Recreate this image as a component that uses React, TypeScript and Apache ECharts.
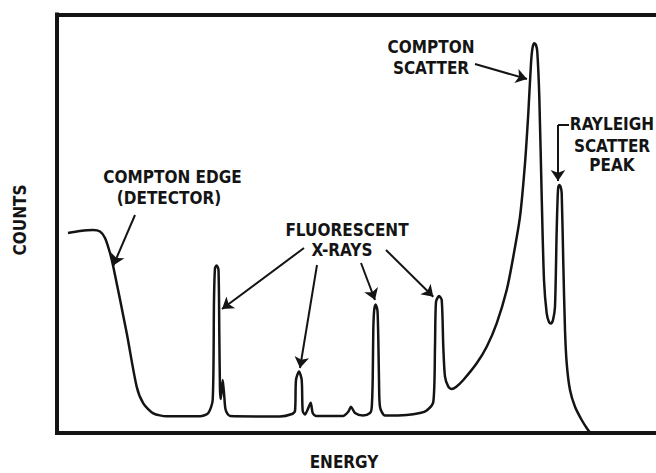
import React, { useEffect, useRef } from "react";
import * as echarts from "echarts";

// Spectrum trace (energy in channel units, counts in arbitrary units)
const energy = [
  11, 23, 36, 43, 48, 53, 56.3, 69.7, 79.7, 86.3, 96.3, 109.7, 143, 151.3, 155.7, 157, 158, 159.7,
  161.5, 162.3, 163, 163.8, 165.7, 167.3, 168.7, 173, 223, 235, 238, 239, 242, 244.7, 245.7, 248,
  250.5, 253.7, 255.7, 259, 286, 291.3, 294, 298, 306, 313, 314.7, 315.7, 316.3, 317.2, 318.7,
  320.5, 321.5, 322, 323, 328, 349.7, 363, 369.7, 376.3, 378, 379, 382, 384.7, 386.3, 388, 391.3,
  394.7, 399, 406.3, 419.7, 429.7, 439.7, 449.7, 456.3, 463, 468, 471.3, 474, 475.5, 477.3, 479,
  480.3, 482.3, 484.7, 487, 489.7, 492, 494, 496, 498, 499.7, 501, 502.3, 503.7, 504.7, 506.3, 508,
  509.7, 513, 518, 524.7, 529.7, 533,
];
const counts = [
  199.5, 201.5, 202.5, 201, 194.5, 179.5, 165.8, 99.5, 45.8, 29.2, 19.2, 16.2, 16.2, 19.5, 32.5,
  132.5, 164.5, 167, 162.5, 99.5, 42.5, 33.5, 52.5, 35.8, 22.5, 16.5, 16, 18.5, 21.5, 52.5, 61,
  52.5, 21.5, 18, 22.5, 29.8, 19.5, 16.5, 16.5, 20.8, 25.8, 19.5, 17, 19.5, 24.5, 52.5, 102.5,
  122.5, 128, 121.5, 82.5, 52.5, 25.5, 17, 17.5, 19.5, 22, 30.5, 85.8, 130.5, 136.5, 132.5, 85.8,
  55.8, 45.8, 43.5, 45.5, 52.5, 69.2, 85.8, 109.2, 142.5, 175.8, 215.8, 269.2, 319.2, 369.2, 384.5,
  389.2, 387.5, 380.5, 335.8, 235.8, 152.5, 119.2, 110.5, 109, 112.5, 125.8, 202.5, 242.5, 247.5,
  245.5, 239.2, 169.2, 102.5, 69.2, 42.5, 25.8, 12.5, 4.5, 0,
];

// Annotation arrows: [fromEnergy, fromCounts, toEnergy, toCounts]
const arrows = [
  [78, 217.5, 56.3, 167],
  [247, 184.5, 165, 123.5],
  [260, 167.5, 243, 64.5],
  [304, 169.5, 318, 132.5],
  [329, 182.5, 376.3, 135.8],
  [418, 368.5, 470, 353.5],
  [501, 307.5, 501, 251.5],
];
const bracket = [501, 307.5, 512, 307.5];

const INK = "#141414";
const FONT = "bold 17px 'DejaVu Sans Condensed', 'Liberation Sans', Arial, sans-serif";

export default function App() {
  const ref = useRef<HTMLDivElement>(null);
  useEffect(() => {
    if (!ref.current) return;
    const chart = echarts.init(ref.current, null, { renderer: "svg" });
    const data = energy.map((e, i) => [e, counts[i]]);
    const txt = (text: string, x: number, y: number, extra: any = {}) => ({
      type: "text",
      x,
      y,
      ...extra,
      style: {
        text,
        fill: INK,
        font: FONT,
        lineHeight: 16,
        align: "center",
        verticalAlign: "middle",
      },
      silent: true,
    });
    const frame = { show: true, onZero: false, lineStyle: { color: INK, width: 4, cap: "square" } };
    const hidden = {
      axisTick: { show: false },
      axisLabel: { show: false },
      splitLine: { show: false },
    };
    chart.setOption({
      animation: false,
      backgroundColor: "#ffffff",
      grid: { left: 57, top: 14.5, right: 0, bottom: 40.5 },
      xAxis: [
        { type: "value", min: 0, max: 599, position: "bottom", axisLine: frame, ...hidden },
        { type: "value", min: 0, max: 599, position: "top", axisLine: frame, ...hidden },
      ],
      yAxis: { type: "value", min: 0, max: 418, position: "left", axisLine: frame, ...hidden },
      series: [
        {
          type: "line",
          data,
          xAxisIndex: 0,
          showSymbol: false,
          smooth: 0.25,
          lineStyle: { color: INK, width: 2.5 },
          silent: true,
          markLine: {
            silent: true,
            animation: false,
            symbol: ["none", "arrow"],
            symbolSize: 11,
            label: { show: false },
            lineStyle: { color: INK, width: 2, type: "solid" },
            data: [
              ...arrows.map((a) => [{ coord: [a[0], a[1]] }, { coord: [a[2], a[3]] }]),
              [
                { coord: [bracket[0], bracket[1]], symbol: "none" },
                { coord: [bracket[2], bracket[3]], symbol: "none" },
              ],
            ],
          },
        },
      ],
      graphic: [
        txt("COMPTON EDGE", 172.5, 177),
        txt("(DETECTOR)", 169, 198),
        txt("FLUORESCENT", 347, 230),
        txt("X-RAYS", 342, 250),
        txt("COMPTON", 431, 47),
        txt("SCATTER", 431, 68),
        txt("RAYLEIGH", 612, 124),
        txt("SCATTER", 612, 145.5),
        txt("PEAK", 612, 164.5),
        txt("ENERGY", 344, 462),
        txt("COUNTS", 20, 220, { rotation: Math.PI / 2 }),
      ],
    });
    return () => chart.dispose();
  }, []);
  return <div ref={ref} style={{ width: 656, height: 473, position: "absolute", left: 0, top: 0 }} />;
}
